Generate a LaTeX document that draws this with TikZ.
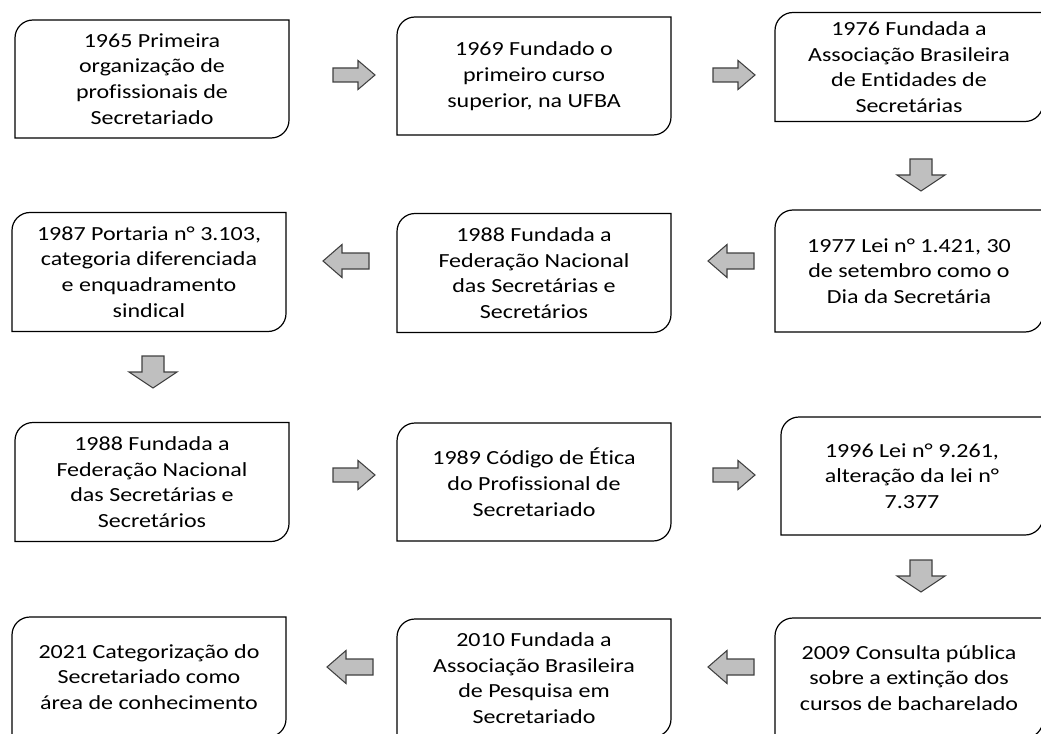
\documentclass[tikz,border=0pt]{standalone}
\usepackage{fontspec}
\setmainfont[FakeStretch=1.2, Ligatures=NoCommon]{Carlito}
\definecolor{cinzaseta}{RGB}{191,191,191}
\definecolor{bordaseta}{RGB}{64,64,64}
\begin{document}
\begin{tikzpicture}[x=0.75pt, y=-0.75pt,
                    line width=0.8pt,
                    setadir/.pic={\draw[seta] (-21,-7) -- (4,-7) -- (4,-14.5) -- (21,0)
                                  -- (4,14.5) -- (4,7) -- (-21,7) -- cycle;},
                    setaesq/.pic={\draw[seta] (23,-8) -- (-4,-8) -- (-4,-16.5) -- (-23,0)
                                  -- (-4,16.5) -- (-4,8) -- (23,8) -- cycle;},
                    setabaixo/.pic={\draw[seta] (-11,-16) -- (11,-16) -- (11,0) -- (24,0)
                                    -- (0,16) -- (-24,0) -- (-11,0) -- cycle;}]
    \tikzstyle{evento}=[rectangle, outer sep=0pt, inner sep=0pt, minimum width=205.5pt,
                        minimum height=88.5pt, align=center,
                        font=\fontsize{15}{19.3}\selectfont]
    \tikzstyle{caixa}=[draw=black, line width=0.9pt]
    \tikzstyle{seta}=[draw=bordaseta, fill=cinzaseta, line width=0.8pt, line join=miter]

    \useasboundingbox (0,0) rectangle (1041,734);
    \clip (0,0) rectangle (1041,734);

    % primeira linha
    \node[evento] (e1965) at (152,79) {1965 Primeira\\organização de\\profissionais de\\Secretariado};
    \node[evento] (e1969) at (534,76) {1969 Fundado o\\primeiro curso\\superior,\ na UFBA};
    \node[evento, minimum width=201pt, minimum height=81.75pt] (e1976) at (909,67)
        {1976 Fundada a\\Associação Brasileira\\de Entidades de\\Secretárias};

    % segunda linha
    \node[evento, minimum width=201pt, minimum height=91.5pt] (e1977) at (909,271)
        {1977 Lei n° 1.421, 30\\de setembro como o\\Dia da Secretária};
    \node[evento, minimum height=89.25pt] (e1988a) at (534,273)
        {1988 Fundada a\\Federação\ Nacional\\das Secretárias e\\Secretários};
    \node[evento, minimum height=89.25pt] (e1987) at (149,272)
        {1987 Portaria n° 3.103,\\categoria diferenciada\\e enquadramento\\sindical};

    % terceira linha
    \node[evento, minimum height=89.25pt] (e1988b) at (152,482)
        {1988 Fundada a\\Federação\ Nacional\\das Secretárias e\\Secretários};
    \node[evento] (e1989) at (534,482) {1989 Código de Ética\\do Profissional de\\Secretariado};
    \node[evento, minimum width=196.5pt] (e1996) at (912,476)
        {1996 Lei n° 9.261,\\alteração da lei n°\\7.377};

    % quarta linha
    \node[evento, minimum width=201pt, minimum height=90pt] (e2009) at (909,678)
        {2009 Consulta pública\\sobre a extinção dos\\cursos de bacharelado};
    \node[evento] (e2010) at (534,678)
        {2010 Fundada a\\Associação Brasileira\\de Pesquisa\ em\\Secretariado};
    \node[evento, minimum height=90pt] (e2021) at (149,677)
        {2021 Categorização do\\Secretariado como\\área de conhecimento};

    % contornos com dois cantos arredondados
    \foreach \n in {e1965,e1969,e1976,e1977,e1988a,e1987,e1988b,e1989,e1996,e2009,e2010,e2021}
        \draw[caixa] (\n.south west) -- ([yshift=-13.5pt]\n.north west)
            arc[start angle=180, end angle=90, radius=13.5pt] -- (\n.north east)
            -- ([yshift=13.5pt]\n.south east)
            arc[start angle=0, end angle=-90, radius=13.5pt] -- cycle;

    % setas
    \pic (s1) at (354,75) {setadir};
    \pic (s2) at (734,75) {setadir};
    \pic (s3) at (921,175) {setabaixo};
    \pic (s4) at (731,261) {setaesq};
    \pic (s5) at (346,261) {setaesq};
    \pic (s6) at (153,372) {setabaixo};
    \pic (s7) at (354,475) {setadir};
    \pic (s8) at (734,475) {setadir};
    \pic (s9) at (921,576) {setabaixo};
    \pic (s10) at (731,667) {setaesq};
    \pic (s11) at (350,667) {setaesq};
\end{tikzpicture}
\end{document}
